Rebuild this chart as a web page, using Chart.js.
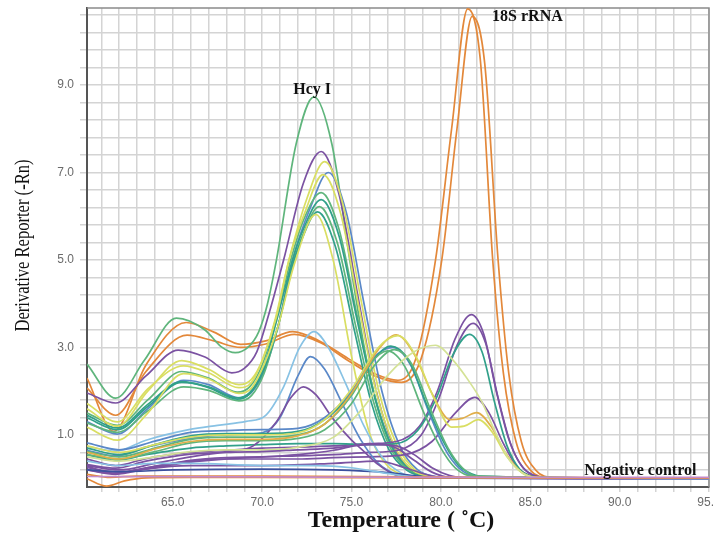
<!DOCTYPE html>
<html><head><meta charset="utf-8">
<script src="https://cdn.jsdelivr.net/npm/chart.js@4"></script>
<style>html,body{margin:0;padding:0;background:#fff}</style>
</head><body>
<canvas id="c" width="714" height="535"></canvas>
<script>
// ---- tick labels ----
const xLabelValues = [65, 70, 75, 80, 85, 90, 95];
const yLabelValues = [1, 3, 5, 7, 9];

// ---- series: [temperature (°C), derivative reporter] ----
// Hcy I positive samples
const hcyGreenA = [[60.2,2.62],[61.8,1.84],[63.4,2.7],[65.2,3.67],[66.8,3.4],[67.7,3.02],[68.5,2.88],[69.2,3.0],[69.8,3.35],[70.3,4.0],[70.8,5.0],[71.9,7.65],[72.9,8.73],[73.9,7.65],[74.9,5.0],[75.9,2.6],[76.9,1.05],[77.9,0.33],[78.9,0.08],[80,0.02],[95,0.02]];
const hcyPurpleA = [[60.2,1.96],[61.8,1.73],[63.5,2.35],[65.3,2.94],[66.8,2.78],[68.3,2.42],[69.0,2.52],[69.7,2.9],[70.4,3.8],[71.2,5.0],[72.3,6.75],[73.3,7.48],[74.3,6.5],[75.3,4.3],[76.3,2.15],[77.3,0.8],[78.3,0.23],[79.3,0.05],[80.5,0.02],[95,0.02]];
const hcyYellowA = [[60.2,1.6],[61.9,1.2],[63.6,2.0],[65.5,2.7],[67,2.5],[68.7,2.15],[69.4,2.27],[70.0,2.7],[70.7,3.6],[71.5,5.0],[72.5,6.4],[73.5,7.25],[74.5,6.3],[75.5,4.15],[76.5,2.05],[77.5,0.8],[78.5,0.22],[79.5,0.05],[80.5,0.02],[95,0.02]];
const hcyBlueA = [[60.2,1.3],[61.9,1.02],[63.6,1.6],[65.6,2.25],[67,2.15],[68.7,1.85],[69.4,1.97],[70.1,2.45],[70.9,3.5],[71.7,5.0],[72.7,6.2],[73.7,7.0],[74.7,6.1],[75.7,4.0],[76.7,2.0],[77.7,0.75],[78.7,0.2],[79.7,0.05],[81,0.02],[95,0.02]];
const hcyGreenB = [[60.2,1.5],[61.9,1.22],[63.6,1.8],[65.5,2.45],[67,2.3],[68.6,1.98],[69.3,2.1],[70.0,2.6],[70.8,3.7],[71.6,5.0],[72.3,5.9],[73.3,6.54],[74.3,5.7],[75.3,3.75],[76.3,1.9],[77.3,0.7],[78.3,0.2],[79.3,0.05],[80.5,0.02],[95,0.02]];
const hcyTealA = [[60.2,1.39],[61.9,1.12],[63.6,1.65],[65.5,2.2],[67,2.1],[68.6,1.85],[69.3,1.97],[70.0,2.45],[70.8,3.6],[71.7,5.0],[72.3,5.7],[73.3,6.38],[74.3,5.55],[75.3,3.65],[76.3,1.85],[77.3,0.7],[78.3,0.2],[79.3,0.05],[80.5,0.02],[95,0.02]];
const hcyGreenC = [[60.2,1.27],[61.9,1.06],[63.6,1.55],[65.6,2.1],[67,2.02],[68.7,1.78],[69.4,1.9],[70.1,2.4],[70.9,3.5],[71.8,5.0],[72.2,5.5],[73.2,6.22],[74.2,5.4],[75.2,3.55],[76.2,1.8],[77.2,0.68],[78.2,0.19],[79.2,0.05],[80.5,0.02],[95,0.02]];
const hcyTealB = [[60.2,1.45],[61.9,1.16],[63.6,1.7],[65.5,2.22],[67,2.08],[68.6,1.82],[69.3,1.94],[70.0,2.4],[70.9,3.5],[71.7,4.9],[72.1,5.35],[73.1,6.1],[74.1,5.3],[75.1,3.5],[76.1,1.75],[77.1,0.66],[78.1,0.19],[79.1,0.05],[80.5,0.02],[95,0.02]];
const hcyYellowB = [[60.2,1.18],[61.9,0.88],[63.6,1.5],[65.6,2.4],[67,2.28],[68.7,1.95],[69.4,2.07],[70.1,2.6],[70.9,3.5],[71.8,4.9],[73.0,6.04],[74.0,4.95],[75.0,2.8],[76.0,1.05],[77.0,0.3],[78.0,0.07],[79,0.02],[95,0.02]];
const hcyYellowC = [[60.2,1.72],[61.9,1.3],[63.6,2.05],[65.6,2.58],[67,2.42],[68.7,2.08],[69.4,2.2],[70.0,2.7],[70.8,3.7],[71.5,5.0],[72.4,6.1],[73.4,6.95],[74.4,6.05],[75.4,3.95],[76.4,1.95],[77.4,0.75],[78.4,0.2],[79.4,0.05],[80.5,0.02],[95,0.02]];
// 18S rRNA samples
const rnaOrangeA = [[60.2,2.3],[61.7,1.08],[63.5,2.6],[65.75,3.57],[67.3,3.35],[68.8,3.07],[70.2,3.15],[71.7,3.36],[73.2,3.15],[74.8,2.75],[76.3,2.4],[77.6,2.25],[78.6,2.75],[79.7,5.0],[80.6,8.0],[81.5,10.74],[82.2,9.6],[82.9,5.0],[83.5,2.4],[84.2,0.85],[85.0,0.2],[86.0,0.03],[95,0.01]];
const rnaOrangeB = [[60.2,2.07],[61.8,1.45],[63.5,2.45],[65.8,3.28],[67.3,3.15],[68.8,3.0],[70.2,3.08],[71.8,3.3],[73.3,3.1],[74.8,2.7],[76.3,2.35],[77.8,2.2],[78.9,2.75],[80.05,5.0],[80.9,8.0],[81.75,10.57],[82.45,9.5],[83.2,5.0],[83.8,2.4],[84.5,0.85],[85.3,0.2],[86.3,0.03],[95,0.01]];
// mid-temperature peaks
const midOrange = [[60.2,0.6],[62,0.45],[64,0.68],[66,0.85],[68,0.9],[70,0.9],[72,0.98],[73.5,1.25],[75,1.95],[76.5,2.95],[77.5,3.29],[78.5,2.85],[79.5,1.95],[80.5,1.35],[81.2,1.38],[82,1.51],[82.8,1.2],[83.6,0.6],[84.5,0.15],[85.5,0.03],[95,0.01]];
const midYellow = [[60.2,0.75],[62,0.6],[64,0.78],[66,0.95],[68,1.0],[70,1.0],[72,1.05],[73.5,1.35],[75,2.05],[76.5,3.0],[77.6,3.27],[78.6,2.8],[79.6,1.85],[80.6,1.18],[81.3,1.2],[82.1,1.35],[82.9,1.05],[83.7,0.5],[84.6,0.12],[85.6,0.02],[95,0.01]];
const broadPale = [[60.2,0.5],[62,0.4],[64,0.5],[66,0.62],[68,0.66],[70,0.66],[72,0.72],[74,0.95],[75.5,1.55],[77,2.35],[78.5,2.9],[79.7,3.05],[80.7,2.7],[81.5,2.27],[82.3,1.75],[83,1.1],[83.8,0.45],[84.6,0.12],[85.5,0.02],[95,0.01]];
const midTeal = [[60.2,0.7],[62,0.55],[64,0.78],[66,0.98],[68,1.03],[70,1.03],[72,1.08],[73.5,1.35],[75,1.95],[76.2,2.7],[77.2,3.03],[78.2,2.7],[79.2,1.7],[80.2,0.8],[81,0.3],[82,0.07],[83,0.02],[95,0.01]];
const midBlue = [[60.2,0.82],[62,0.66],[64,0.86],[66,1.06],[68,1.1],[70,1.12],[72,1.15],[73.5,1.4],[75,2.0],[76.2,2.75],[77.3,3.0],[78.3,2.6],[79.3,1.55],[80.2,0.7],[81,0.25],[82,0.06],[95,0.01]];
const midGreenA = [[60.2,0.55],[62,0.45],[64,0.62],[66,0.82],[68,0.87],[70,0.87],[72,0.92],[73.5,1.12],[75,1.72],[76.3,2.6],[77.4,2.95],[78.4,2.6],[79.4,1.6],[80.4,0.7],[81.2,0.25],[82,0.06],[95,0.01]];
const midGreenB = [[60.2,0.62],[62,0.5],[64,0.7],[66,0.9],[68,0.95],[70,0.95],[72,1.0],[73.5,1.25],[75,1.9],[76.1,2.65],[77.0,2.92],[78.0,2.55],[79.0,1.55],[80.0,0.7],[80.8,0.25],[81.8,0.06],[95,0.01]];
// low peaks near 72-73 °C
const lowLightBlue = [[60.2,0.74],[61.8,0.63],[63.5,0.88],[65.9,1.12],[67.5,1.22],[69.1,1.31],[70.2,1.45],[71.2,2.1],[72.1,3.0],[72.9,3.36],[73.7,3.0],[74.7,2.15],[75.7,1.2],[76.7,0.5],[77.7,0.15],[78.7,0.03],[95,0.01]];
const lowBlue = [[60.2,0.65],[61.8,0.52],[63.5,0.72],[66,0.92],[68,1.0],[70,1.05],[71,1.4],[72,2.35],[72.7,2.79],[73.5,2.5],[74.5,1.7],[75.5,0.9],[76.5,0.35],[77.5,0.1],[78.5,0.02],[95,0.01]];
const lowPurple = [[60.2,0.32],[61.8,0.24],[63.5,0.4],[66,0.56],[68,0.62],[69.5,0.75],[70.8,1.3],[71.6,1.85],[72.3,2.1],[73.0,1.92],[74.0,1.35],[75.0,0.88],[75.6,0.66],[76.5,0.32],[77.5,0.08],[78.5,0.02],[95,0.01]];
// high-temperature peaks near 82 °C
const hiPurpleA = [[60.2,0.45],[61.8,0.3],[63.5,0.46],[66,0.6],[68,0.65],[70,0.7],[72,0.72],[74,0.75],[76,0.8],[77.5,0.85],[78.8,1.2],[79.8,2.0],[80.8,3.2],[81.7,3.75],[82.4,3.3],[83.1,2.0],[83.8,0.9],[84.5,0.3],[85.3,0.06],[86.5,0.01],[95,0.01]];
const hiPurpleB = [[60.2,0.2],[61.8,0.1],[63.5,0.22],[66,0.38],[68,0.45],[70,0.5],[72,0.52],[74,0.55],[76,0.6],[77.6,0.65],[78.9,1.0],[79.9,1.85],[80.9,3.05],[81.8,3.55],[82.5,3.1],[83.2,1.85],[83.9,0.8],[84.6,0.25],[85.4,0.05],[86.5,0.01],[95,0.01]];
const hiTeal = [[60.2,0.55],[61.8,0.42],[63.5,0.55],[66,0.7],[68,0.75],[70,0.78],[72,0.8],[74,0.8],[76,0.78],[77.5,0.8],[78.7,1.1],[79.7,1.8],[80.7,2.85],[81.6,3.3],[82.3,2.9],[83.0,1.75],[83.7,0.75],[84.4,0.22],[85.2,0.04],[86.5,0.01],[95,0.01]];
const hiPurpleC = [[60.2,0.2],[61.8,0.12],[63.5,0.25],[66,0.4],[68,0.45],[70,0.45],[72,0.45],[74,0.48],[76,0.5],[78,0.55],[79.5,0.85],[80.8,1.5],[81.9,1.86],[82.7,1.5],[83.5,0.8],[84.3,0.25],[85.2,0.05],[86.5,0.01],[95,0.01]];
// flat / low signals
const flatPurpleA = [[60.2,0.3],[62,0.2],[64,0.35],[66,0.5],[68,0.6],[70,0.62],[72,0.66],[74,0.7],[76,0.78],[77.5,0.75],[78.5,0.55],[79.5,0.25],[80.5,0.07],[81.5,0.01],[95,0]];
const flatPurpleB = [[60.2,0.25],[62,0.15],[64,0.28],[66,0.42],[68,0.48],[70,0.5],[72,0.55],[74,0.65],[75.5,0.78],[76.5,0.8],[77.5,0.7],[78.5,0.42],[79.5,0.15],[80.5,0.03],[95,0]];
const flatDarkBlue = [[60.2,0.2],[62,0.16],[65,0.2],[70,0.22],[74,0.2],[77,0.14],[79,0.05],[81,0.01],[95,0]];
const flatPurpleC = [[60.2,0.28],[61.8,0.12],[63,0.2],[66,0.3],[70,0.3],[74,0.35],[76.5,0.4],[78,0.25],[79.5,0.06],[81,0.01],[95,0]];
const flatLightBlue = [[60.2,0.4],[62,0.3],[64,0.35],[66,0.35],[70,0.3],[73,0.3],[75,0.25],[77,0.12],[79,0.03],[95,0]];
const flatOrangeA = [[60.2,0.0],[61.3,-0.17],[62.3,-0.05],[63.5,0.02],[66,0.03],[70,0.03],[80,0.02],[95,0.02]];
const flatOrangeB = [[60.2,0.1],[61.5,0.03],[63,0.06],[70,0.06],[80,0.04],[86,0.02],[95,0.02]];
const negativeControl = [[60.2,0.05],[70,0.04],[85,0.03],[95,0.03]];

// ---- styling ----
const C = {
  green:'#5fb57c', teal:'#31a08a', purple:'#7b52a2', orange:'#e3883a', yellow:'#d9de62',
  pale:'#d4e296', lblue:'#88c2e4', blue:'#5a88c8', dblue:'#3c509e', khaki:'#e0ae4a', pink:'#c58ac9'
};
const seriesList = [
  [negativeControl, C.pink], [flatOrangeB, C.orange], [flatOrangeA, C.orange],
  [flatLightBlue, C.lblue], [flatDarkBlue, C.dblue], [flatPurpleC, C.purple],
  [flatPurpleA, C.purple], [flatPurpleB, C.purple],
  [broadPale, C.pale], [midYellow, C.yellow], [midOrange, C.khaki],
  [midGreenA, C.green], [midGreenB, C.green], [midTeal, C.teal], [midBlue, C.blue],
  [lowPurple, C.purple], [lowBlue, C.blue], [lowLightBlue, C.lblue],
  [hiTeal, C.teal], [hiPurpleC, C.purple], [hiPurpleB, C.purple], [hiPurpleA, C.purple],
  [hcyYellowB, C.yellow], [hcyYellowC, C.yellow], [hcyYellowA, C.yellow],
  [hcyTealB, C.teal], [hcyGreenC, C.green], [hcyTealA, C.teal], [hcyGreenB, C.green],
  [hcyBlueA, C.blue], [hcyPurpleA, C.purple], [hcyGreenA, C.green],
  [rnaOrangeB, C.orange], [rnaOrangeA, C.orange]
];

const xGrid = []; for (let v = 61; v <= 95; v++) xGrid.push(v);
const yGrid = []; for (let k = 0; k <= 26; k++) yGrid.push(Math.round((0.2 + 0.4 * k) * 10) / 10);

const xTitle = 'Temperature ( \u02DAC)';
const yTitle = 'Derivative Reporter (-Rn)';
const annotations = [
  { text: 'Hcy I', x: 72.8, y: 8.89 },
  { text: '18S rRNA', x: 84.84, y: 10.55 },
  { text: 'Negative control', x: 91.16, y: 0.18 }
];

const framePlugin = {
  id: 'frame',
  beforeDatasetsDraw(chart) {
    const { ctx, chartArea: a } = chart;
    ctx.save();
    ctx.strokeStyle = '#8a8a8a'; ctx.lineWidth = 1.5;
    ctx.beginPath(); ctx.moveTo(a.left, a.top); ctx.lineTo(a.right, a.top); ctx.lineTo(a.right, a.bottom); ctx.stroke();
    ctx.restore();
  }
};
const textPlugin = {
  id: 'texts',
  afterDraw(chart) {
    const { ctx, chartArea: a } = chart; const xs = chart.scales.x, ys = chart.scales.y;
    ctx.save();
    ctx.fillStyle = '#111'; ctx.textAlign = 'center'; ctx.textBaseline = 'middle';
    ctx.font = 'bold 16px "Liberation Serif"';
    annotations.forEach(t => ctx.fillText(t.text, xs.getPixelForValue(t.x), ys.getPixelForValue(t.y)));
    // x axis title
    ctx.font = 'bold 24px "Liberation Serif"';
    ctx.fillText(xTitle, (a.left + a.right) / 2 + 3, chart.height - 14);
    // y axis title (narrow serif)
    ctx.font = '22px "Liberation Serif"';
    const w = ctx.measureText(yTitle).width;
    ctx.translate(23, (a.top + a.bottom) / 2 - 2);
    ctx.rotate(-Math.PI / 2);
    ctx.scale(172 / w, 1);
    ctx.fillText(yTitle, 0, 0);
    ctx.restore();
  }
};

Chart.defaults.font.family = '"Liberation Sans", Arial, sans-serif';
new Chart(document.getElementById('c'), {
  type: 'line',
  data: {
    datasets: seriesList.map(([pts, col]) => ({
      data: pts.map(p => ({ x: p[0], y: p[1] })),
      borderColor: col, borderWidth: 1.7, pointRadius: 0, fill: false,
      cubicInterpolationMode: 'monotone'
    }))
  },
  options: {
    responsive: false, animation: false, devicePixelRatio: 1,
    layout: { padding: { top: 8, right: 5, left: 0, bottom: 0 } },
    plugins: { legend: { display: false }, tooltip: { enabled: false } },
    scales: {
      x: {
        type: 'linear', min: 60.2, max: 95,
        afterBuildTicks: s => { s.ticks = xGrid.map(v => ({ value: v })); },
        afterFit: s => { s.height = 48; s.paddingLeft = 0; s.paddingRight = 0; },
        grid: { color: '#d4d4d4', lineWidth: 1.5, tickLength: 5 },
        border: { display: true, color: '#555', width: 2 },
        ticks: { autoSkip: false, maxRotation: 0, padding: 3, color: '#6a6a6a', font: { size: 12 },
          callback: v => xLabelValues.includes(v) ? v.toFixed(1) : '' },
        title: { display: false }
      },
      y: {
        type: 'linear', min: -0.19, max: 10.76,
        afterBuildTicks: s => { s.ticks = yGrid.map(v => ({ value: v })); },
        afterFit: s => { s.width = 87; s.paddingTop = 0; s.paddingBottom = 0; },
        grid: { color: '#d4d4d4', lineWidth: 1.5, tickLength: 7 },
        border: { display: true, color: '#555', width: 2 },
        ticks: { autoSkip: false, padding: 6, color: '#6a6a6a', font: { size: 12 },
          callback: v => yLabelValues.includes(Math.round(v * 10) / 10) ? v.toFixed(1) : '' },
        title: { display: false }
      }
    }
  },
  plugins: [framePlugin, textPlugin]
});
</script>
</body></html>
